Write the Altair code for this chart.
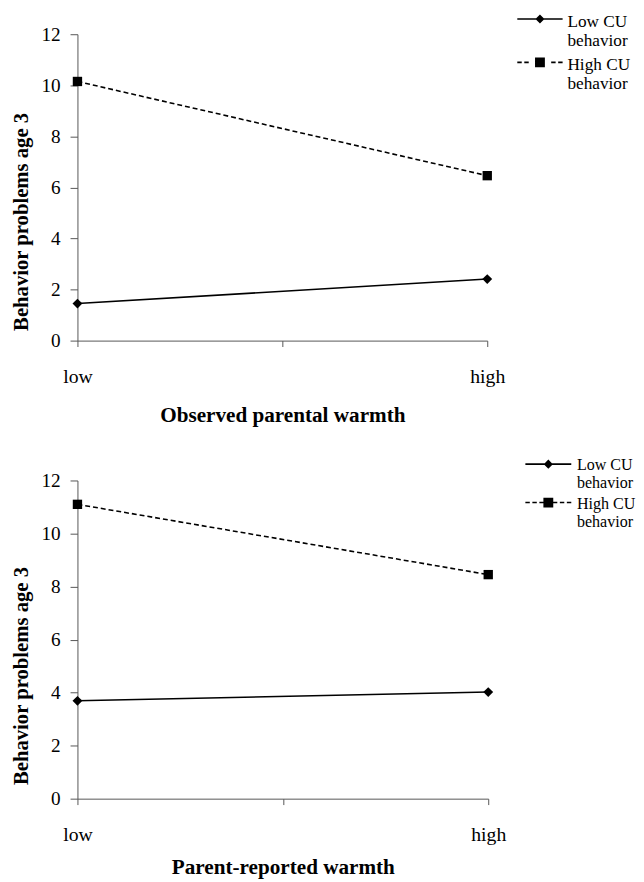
import altair as alt
import pandas as pd

# ---- data ----
warmth_levels = ["low", "high"]
warmth_pos = [0, 1]
series_names = ["Low CU behavior", "High CU behavior"]
observed_low_cu = [1.45, 2.41]
observed_high_cu = [10.15, 6.46]
parent_low_cu = [3.69, 4.02]
parent_high_cu = [11.1, 8.45]
y_ticks = [0, 2, 4, 6, 8, 10, 12]
x_ticks = [0, 0.5, 1]

FONT = "Liberation Serif"


def make_df(low_vals, high_vals):
    rows = []
    for s, vals in zip(series_names, [low_vals, high_vals]):
        for p, lvl, v in zip(warmth_pos, warmth_levels, vals):
            rows.append({"pos": p, "level": lvl, "series": s, "value": v})
    return pd.DataFrame(rows)


def legend_shapes(unit, half, dy, t=1.6, dmk=4.6, smk=5.0, dash=4.5, gap=2.6):
    # glyph outlines for the legend keys (line + marker), in symbol units
    def f(v):
        return f"{v / unit:.4f}"

    def rect(x0, x1, yc):
        return f"M{f(x0)},{f(yc - t / 2)}H{f(x1)}V{f(yc + t / 2)}H{f(x0)}Z"

    low = rect(-half, half, dy)
    low += f"M0,{f(dy - dmk)}L{f(dmk)},{f(dy)}L0,{f(dy + dmk)}L{f(-dmk)},{f(dy)}Z"
    high = ""
    x = -half
    while x + dash <= -smk + 0.5:
        high += rect(x, x + dash, dy) + rect(-x - dash, -x, dy)
        x += dash + gap
    high += f"M{f(-smk)},{f(dy - smk)}H{f(smk)}V{f(dy + smk)}H{f(-smk)}Z"
    return [low, high]


def panel(df, w, h, xtitle, x_label_pad, x_title_pad, y_title_y,
          leg_x, leg_y, leg_font, leg_lh, leg_offset, leg_rowpad, sym_px,
          half, dy, use_encode):
    base = alt.Chart(df)
    x = alt.X(
        "pos:Q",
        scale=alt.Scale(domain=[0, 1], nice=False, zero=False),
        axis=alt.Axis(
            values=x_ticks,
            labelExpr="datum.value == 0 ? 'low' : (datum.value == 1 ? 'high' : '')",
            labelFlush=False, labelOverlap=False, labelBound=False,
            labelFont=FONT, labelFontSize=20, labelColor="black",
            labelPadding=x_label_pad, tickSize=6, tickColor="#555",
            domainColor="#555", grid=False,
            titleFont=FONT, titleFontSize=21.5, titleFontWeight="bold",
            titleColor="black", titlePadding=x_title_pad,
        ),
        title=xtitle,
    )
    y = alt.Y(
        "value:Q",
        scale=alt.Scale(domain=[0, 12], nice=False),
        axis=alt.Axis(
            values=y_ticks, labelFont=FONT, labelFontSize=19.5,
            labelColor="black", labelPadding=10, tickSize=7.5,
            tickColor="#555", domainColor="#555", grid=False,
            titleFont=FONT, titleFontSize=21, titleFontWeight="bold",
            titleColor="black", titlePadding=10, titleY=y_title_y,
        ),
        title="Behavior problems age 3",
    )
    low_f = alt.datum.series == series_names[0]
    high_f = alt.datum.series == series_names[1]

    line_low = base.transform_filter(low_f).mark_line(
        color="black", strokeWidth=1.6).encode(x=x, y=y)
    line_high = base.transform_filter(high_f).mark_line(
        color="black", strokeWidth=1.6, strokeDash=[5, 3]).encode(x=x, y=y)
    pt_low = base.transform_filter(low_f).mark_point(
        shape="diamond", filled=True, color="black", size=100, opacity=1
    ).encode(x=x, y=y)
    pt_high = base.transform_filter(high_f).mark_point(
        shape="square", filled=True, color="black", size=90, opacity=1
    ).encode(x=x, y=y)

    leg_kwargs = dict(
        title=None, orient="none", legendX=leg_x, legendY=leg_y, padding=0,
        labelFont=FONT, labelFontSize=leg_font, labelColor="black",
        labelLimit=0, labelOffset=leg_offset, rowPadding=leg_rowpad,
        symbolSize=sym_px * sym_px, symbolFillColor="black",
        labelExpr="[replace(datum.label, ' behavior', ''), 'behavior']",
    )
    if use_encode:
        leg_kwargs["encode"] = {"labels": {"lineHeight": {"value": leg_lh}}}
    leg = alt.Legend(**leg_kwargs)
    shapes = legend_shapes(sym_px / 2.0, half, dy)
    legend_layer = base.transform_filter("false").mark_point(
        filled=True, color="black", opacity=1
    ).encode(
        x=x, y=y,
        shape=alt.Shape("series:N",
                        scale=alt.Scale(domain=series_names, range=shapes),
                        legend=leg),
    )
    return alt.layer(line_low, line_high, pt_low, pt_high,
                     legend_layer).properties(width=w, height=h)


def build(use_encode, pad_top):
    top = panel(make_df(observed_low_cu, observed_high_cu), w=416, h=311,
                xtitle="Observed parental warmth", x_label_pad=21,
                x_title_pad=18, y_title_y=190, leg_x=453.5, leg_y=-28.4,
                leg_font=17.5, leg_lh=20, leg_offset=11.9,
                leg_rowpad=-5 if use_encode else -4, sym_px=30,
                half=23, dy=-3.0, use_encode=use_encode)
    bottom = panel(make_df(parent_low_cu, parent_high_cu), w=417, h=323,
                   xtitle="Parent-reported warmth", x_label_pad=20,
                   x_title_pad=13, y_title_y=198, leg_x=466, leg_y=-27.3,
                   leg_font=16.3, leg_lh=16.7, leg_offset=17,
                   leg_rowpad=-18.7 if use_encode else -13, sym_px=22,
                   half=23.3, dy=-1.3, use_encode=use_encode)
    return alt.vconcat(top, bottom, spacing=27).resolve_scale(
        shape="independent"
    ).properties(
        padding={"left": 2.5, "top": pad_top, "right": 0, "bottom": 0},
        background="white",
    ).configure_view(stroke=None)


chart = None
for use_encode in (True, False):
    for pad_top in (-9, 0):
        try:
            c = build(use_encode, pad_top)
            c.to_dict()
            chart = c
            break
        except Exception:
            continue
    if chart is not None:
        break

chart.save("out.html", embed_options={"renderer": "svg", "actions": False})
